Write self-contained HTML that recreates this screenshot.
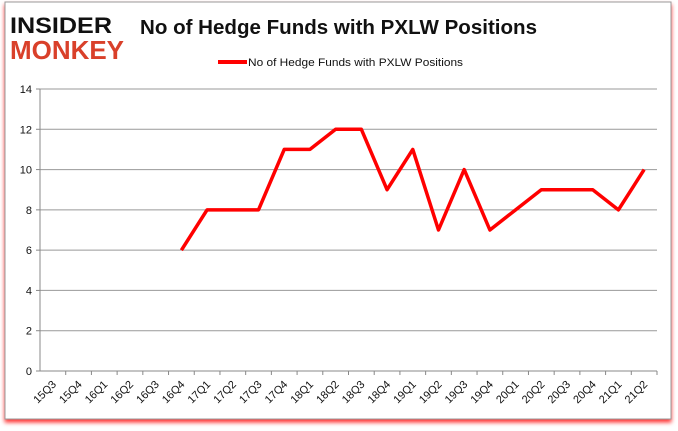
<!DOCTYPE html>
<html><head><meta charset="utf-8"><style>
body{margin:0;background:#fff;font-family:"Liberation Sans",sans-serif}
#wrap{position:relative;width:678px;height:431px;overflow:hidden}
</style></head><body>
<div id="wrap">
<svg id="svg" width="678" height="431" xmlns="http://www.w3.org/2000/svg">
<defs><filter id="sh" x="-5%" y="-5%" width="110%" height="115%"><feDropShadow dx="0" dy="3" stdDeviation="2" flood-color="#ff0000" flood-opacity="0.8"/></filter></defs>
<rect x="5" y="2" width="666" height="417" fill="#fff" stroke="#999" filter="url(#sh)"/>
<g>
<text x="10" y="33" font-family="Liberation Sans" font-weight="900" font-size="22" fill="#111" textLength="102" lengthAdjust="spacingAndGlyphs">INSIDER</text>
<text x="10" y="59" font-family="Liberation Sans" font-weight="900" font-size="26" fill="#d9402a" textLength="114" lengthAdjust="spacingAndGlyphs">MONKEY</text>
</g>
<text x="140" y="34" font-size="20" font-weight="bold" fill="#111" textLength="397" lengthAdjust="spacingAndGlyphs">No of Hedge Funds with PXLW Positions</text>
<g>
<line x1="218" y1="62" x2="247" y2="62" stroke="#f00" stroke-width="4"/>
<text x="248" y="66" font-size="11" fill="#111" textLength="215" lengthAdjust="spacingAndGlyphs">No of Hedge Funds with PXLW Positions</text>
</g>
<g id="grid"></g><g id="axes"></g><g id="series"></g>
</svg>
</div>
<script>
const categories=["15Q3","15Q4","16Q1","16Q2","16Q3","16Q4","17Q1","17Q2","17Q3","17Q4","18Q1","18Q2","18Q3","18Q4","19Q1","19Q2","19Q3","19Q4","20Q1","20Q2","20Q3","20Q4","21Q1","21Q2"];
const values=[null,null,null,null,null,6,8,8,8,11,11,12,12,9,11,7,10,7,8,9,9,9,8,10];
const yTicks=[0,2,4,6,8,10,12,14];
const NS="http://www.w3.org/2000/svg";
const L=40,R=657,T=89,B=371,yMax=14;
const bw=(R-L)/categories.length;
function xs(i){return L+(i+0.5)*bw;}
function ys(v){return B-(v/yMax)*(B-T);}
function mk(tag,attrs,parent){const e=document.createElementNS(NS,tag);for(const k in attrs)e.setAttribute(k,attrs[k]);parent.appendChild(e);return e;}
const grid=document.getElementById('grid'),axes=document.getElementById('axes'),ser=document.getElementById('series');
yTicks.forEach(v=>{
 const y=ys(v);
 if(v>0){const g=mk('line',{x1:L,x2:R,y1:y,y2:y,stroke:'#999','stroke-width':1},grid);
 
 }
 mk('line',{x1:L-4,x2:L,y1:y,y2:y,stroke:'#888'},axes);
 const t=mk('text',{x:L-8,y:y+4,'text-anchor':'end','font-size':11,fill:'#111'},axes);
 t.textContent=v;
 
 
});
mk('line',{x1:L,x2:L,y1:T,y2:B,stroke:'#888'},axes);
const xa=mk('line',{x1:L,x2:R,y1:B,y2:B,stroke:'#888'},axes);


categories.forEach((c,i)=>{
 const x=L+(i+1)*bw;
 mk('line',{x1:x,x2:x,y1:B,y2:B+4,stroke:'#888'},axes);
 const cx=xs(i)+4;
 const t=mk('text',{x:cx,y:B+14,'text-anchor':'end','font-size':11,fill:'#111',transform:`rotate(-45 ${cx} ${B+14})`},axes);
 t.textContent=c;
 
 
});
let d='';
values.forEach((v,i)=>{if(v===null)return;d+=(d?'L':'M')+xs(i)+' '+ys(v)+' ';});
const p=mk('path',{d:d,fill:'none',stroke:'#f00','stroke-width':3.5,'stroke-linejoin':'round'},ser);


</script>
</body></html>
